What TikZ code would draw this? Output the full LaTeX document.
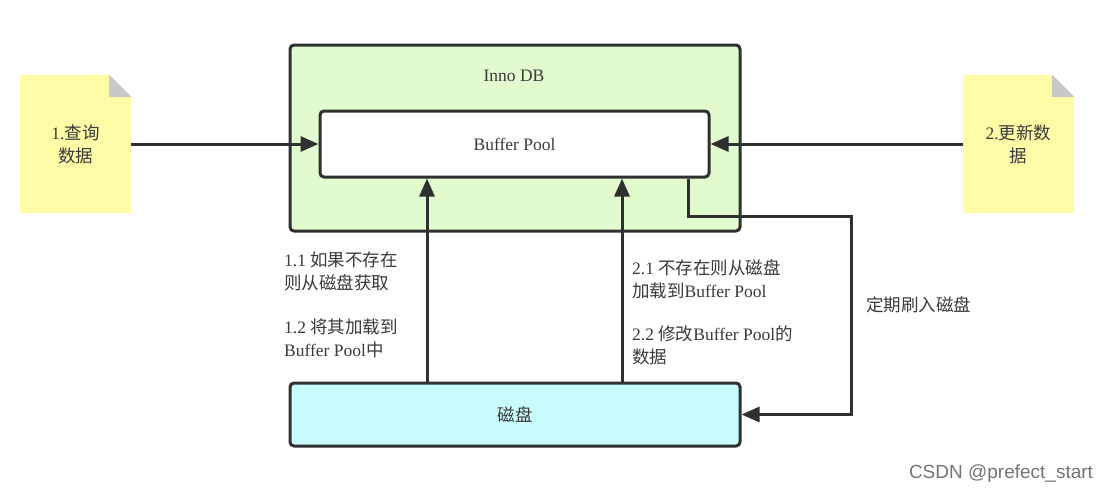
\documentclass[tikz,border=0pt]{standalone}
\usepackage{fontspec}
\setmainfont{Liberation Serif}
\newfontfamily\cjk{Noto Sans CJK SC}
\newfontfamily\wmfont{Liberation Sans}
\usetikzlibrary{arrows.meta}
\newcommand{\zh}[1]{{\cjk #1}}
\definecolor{innogreen}{HTML}{E2FBCE}
\definecolor{noteyellow}{HTML}{FFFCA8}
\definecolor{notefold}{HTML}{C8C8C8}
\definecolor{diskcyan}{HTML}{C9FDFD}
\definecolor{edge}{HTML}{303030}
\definecolor{txt}{HTML}{3A3A3A}
\tikzset{
  box/.style={draw=edge, line width=3pt, rounded corners=4pt, inner sep=0pt},
  arr/.style={draw=edge, line width=3pt, -{Triangle[length=18pt,width=15pt]}},
  lbl/.style={text=txt, font=\fontsize{17.5}{23}\selectfont, inner sep=0pt},
  notebox/.style={minimum width=111pt, minimum height=138pt, inner sep=0pt, align=center, text=txt, font=\fontsize{17.5}{23}\selectfont}
}
\begin{document}
\begin{tikzpicture}[x=1pt,y=-1pt]
\useasboundingbox (0,0) rectangle (1107,493);
% InnoDB container
\node[box, fill=innogreen, minimum width=450pt, minimum height=186pt] (inno) at (515,138) {};
\node[lbl] (innolbl) at (514,76) {Inno DB};
% Buffer pool
\node[box, fill=white, minimum width=389pt, minimum height=66pt, lbl] (bp) at (514.5,144) {Buffer Pool};
% Disk
\node[box, fill=diskcyan, minimum width=450pt, minimum height=63pt, lbl] (disk) at (515,414.5) {\zh{磁盘}};
% Notes
\node[notebox] (n1) at (75.5,144) {};
\fill[noteyellow] (n1.north west) -- ([xshift=-22pt]n1.north east) -- ([yshift=-22pt]n1.north east) -- (n1.south east) -- (n1.south west) -- cycle;
\fill[notefold] ([xshift=-22pt]n1.north east) -- ([xshift=-22pt,yshift=-22pt]n1.north east) -- ([yshift=-22pt]n1.north east) -- cycle;
\node[notebox] (n1t) at (75.5,144) {1.\zh{查询}\\\zh{数据}};
\node[notebox] (n2) at (1018.5,144) {};
\fill[noteyellow] (n2.north west) -- ([xshift=-22pt]n2.north east) -- ([yshift=-22pt]n2.north east) -- (n2.south east) -- (n2.south west) -- cycle;
\fill[notefold] ([xshift=-22pt]n2.north east) -- ([xshift=-22pt,yshift=-22pt]n2.north east) -- ([yshift=-22pt]n2.north east) -- cycle;
\node[notebox] (n2t) at (1018.5,144) {2.\zh{更新数}\\\zh{据}};
% Horizontal arrows
\draw[arr] (n1.east) -- (bp.west);
\draw[arr] (n2.west) -- (bp.east);
% Vertical arrows from disk
\coordinate (c1) at (427,0);
\coordinate (c2) at (622,0);
\draw[arr] (disk.north -| c1) -- (bp.south -| c1);
\draw[arr] (disk.north -| c2) -- (bp.south -| c2);
% Flush path
\coordinate (f1) at (688,216);
\coordinate (f2) at (851,216);
\draw[arr] (bp.south -| f1) -- (f1) -- (f2) -- (f2 |- disk.east) -- (disk.east);
% Labels
\node[lbl, anchor=west, align=left] (l11) at (284,271) {1.1 \zh{如果不存在}\\\zh{则从磁盘获取}};
\node[lbl, anchor=west, align=left] (l12) at (284,338) {1.2 \zh{将其加载到}\\Buffer Pool\zh{中}};
\node[lbl, anchor=west, align=left] (l21) at (632,279) {2.1 \zh{不存在则从磁盘}\\\zh{加载到}Buffer Pool};
\node[lbl, anchor=west, align=left] (l22) at (632,345) {2.2 \zh{修改}Buffer Pool\zh{的}\\\zh{数据}};
\node[lbl, anchor=west] (lf) at (866,305) {\zh{定期刷入磁盘}};
% Watermark
\node[inner sep=0pt, text=black!55, font=\wmfont\fontsize{19}{21}\selectfont] (wm) at (1001,474) {CSDN @prefect\_start};
\end{tikzpicture}
\end{document}
